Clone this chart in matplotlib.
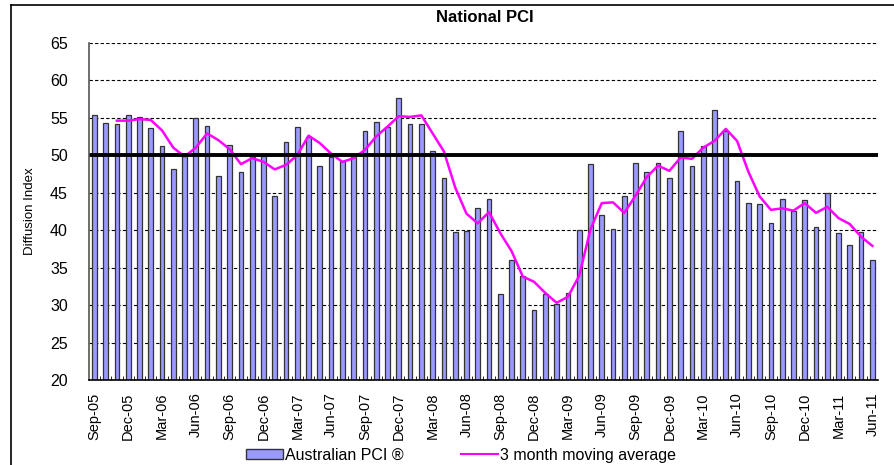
import matplotlib.pyplot as plt
from matplotlib.lines import Line2D
from matplotlib.patches import Patch

plt.rcParams['font.family'] = ['Liberation Sans', 'DejaVu Sans']

# months Sep-05 .. Jun-11
months = ['Jan', 'Feb', 'Mar', 'Apr', 'May', 'Jun',
          'Jul', 'Aug', 'Sep', 'Oct', 'Nov', 'Dec']
labels = []
for year in range(2005, 2012):
    for m in range(12):
        if (year == 2005 and m < 8) or (year == 2011 and m > 5):
            continue
        labels.append(f"{months[m]}-{year % 100:02d}")

pci = [55.4, 54.3, 54.1, 55.3, 55.1, 53.6, 51.2, 48.2, 49.9, 54.9,
       53.9, 47.2, 51.4, 47.7, 49.7, 49.9, 44.6, 51.7, 53.8, 52.4,
       48.5, 49.7, 49.2, 49.8, 53.2, 54.4, 53.7, 57.6, 54.1, 54.2,
       50.5, 46.9, 39.7, 39.9, 43.0, 44.2, 31.5, 36.0, 33.9, 29.4,
       31.5, 30.1, 31.6, 40.0, 48.8, 42.0, 40.2, 44.6, 49.0, 47.7,
       49.0, 46.9, 53.2, 48.5, 51.2, 56.0, 53.2, 46.5, 43.6, 43.5,
       41.0, 44.2, 42.6, 44.0, 40.4, 44.9, 39.6, 38.0, 39.7, 36.0]

# 3 month moving average, starts at Nov-05
ma3 = [54.6, 54.6, 54.8, 54.7, 53.3, 51.0, 49.8, 51.0, 52.9, 52.0,
       50.8, 48.8, 49.6, 49.1, 48.1, 48.7, 50.0, 52.6, 51.6, 50.2,
       49.1, 49.6, 50.7, 52.5, 53.8, 55.2, 55.1, 55.3, 52.9, 50.5,
       45.7, 42.2, 40.9, 42.4, 39.6, 37.2, 33.8, 33.1, 31.6, 30.3,
       31.1, 33.9, 40.1, 43.6, 43.7, 42.3, 44.6, 47.1, 48.6, 47.9,
       49.7, 49.5, 51.0, 51.9, 53.5, 51.9, 47.8, 44.5, 42.7, 42.9,
       42.6, 43.6, 42.3, 43.1, 41.6, 40.8, 39.1, 37.9]

x = list(range(len(pci)))

fig = plt.figure(figsize=(8.94, 4.65), dpi=100)
ax = fig.add_axes([88.7 / 894, 1 - 380 / 465, (878 - 88.7) / 894, (380 - 42.7) / 465])

ax.set_ylim(20, 65)
ax.set_xlim(-0.5, len(pci) - 0.5)
ax.set_yticks(range(20, 66, 5))
ax.yaxis.grid(True, linestyle=(0, (3, 2)), color='black', linewidth=0.8)
ax.set_axisbelow(True)

ax.bar(x, pci, width=0.42, color='#9999FF', edgecolor='#333333', linewidth=0.9)
ax.plot(x[2:], ma3, color='#FF00FF', linewidth=1.8)
ax.axhline(50, color='black', linewidth=2.8)

ax.set_xticks(x[::3])
ax.set_xticklabels(labels[::3], rotation=90, fontsize=10.5)
ax.set_xticks([i + 0.5 for i in x[:-1]], minor=True)
ax.tick_params(axis='x', which='major', length=0, pad=9)
ax.tick_params(axis='x', which='minor', direction='in', length=3, color='black')
ax.tick_params(axis='y', labelsize=11.5, length=0, pad=15)

for s in ['top', 'right']:
    ax.spines[s].set_visible(False)
ax.spines['left'].set_color('#555555')
ax.spines['left'].set_linewidth(1.2)
ax.spines['bottom'].set_linewidth(1.2)

ax.set_ylabel('Diffusion Index', fontsize=9.5, labelpad=10)
fig.text(485 / 894, 1 - 18 / 465, 'National PCI', ha='center', va='center',
         fontsize=12, fontweight='bold')

handles = [Patch(facecolor='#9999FF', edgecolor='#333333', label='Australian PCI ®'),
           Line2D([], [], color='#FF00FF', linewidth=1.5, label='3 month moving average')]
fig.legend(handles=handles, loc='center', bbox_to_anchor=(461 / 894, 1 - 455 / 465),
           ncol=2, frameon=False, fontsize=11.5, columnspacing=3.6, handlelength=2.3,
           handleheight=0.55, handletextpad=0.15)

# outer chart border (left and top visible)
fig.add_artist(Line2D([11 / 894, 11 / 894], [0, 1 - 5 / 465], color='black', linewidth=1.2))
fig.add_artist(Line2D([11 / 894, 1], [1 - 5 / 465, 1 - 5 / 465], color='black', linewidth=1.2))

fig.savefig('out.png', dpi=100)
